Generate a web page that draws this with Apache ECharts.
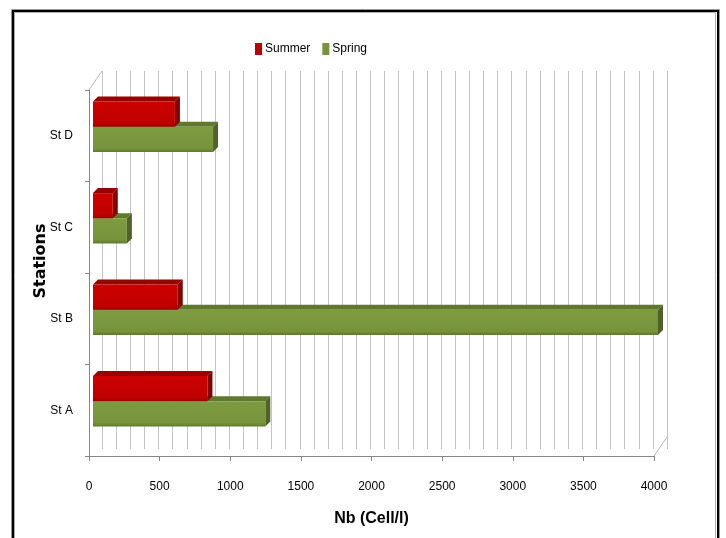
<!DOCTYPE html>
<html>
<head>
<meta charset="utf-8">
<script src="https://cdn.jsdelivr.net/npm/echarts@6/dist/echarts.min.js"></script>
<style>
html,body{margin:0;padding:0;background:#fff;}
#chart{width:726px;height:538px;}
</style>
</head>
<body>
<div id="chart"></div>
<script>
const stations = ['St A', 'St B', 'St C', 'St D'];
const summer = [810, 600, 140, 580];
const spring = [1220, 4000, 240, 850];
const xTicks = [0, 500, 1000, 1500, 2000, 2500, 3000, 3500, 4000];

const NARROW = '"Liberation Sans Narrow", "Arial Narrow", "Liberation Sans", sans-serif';

function bar3d(kind, front, top, side) {
  return function (params, api) {
    const v = api.value(0), c = api.value(1);
    const p0 = api.coord([0, c]);
    const p1 = api.coord([v, c]);
    const band = api.size([0, 1])[1];
    const h = band * 0.275;
    const cy = p0[1] - band * 0.098;
    const y0 = kind === 'summer' ? cy - h : cy;
    const y1 = kind === 'summer' ? cy : cy + h;
    const x0 = p0[0] + 4, x1 = p1[0] + 4;
    const d = 5;
    return {
      type: 'group',
      children: [
        { type: 'polygon', shape: { points: [[x0, y0], [x0 + d, y0 - d], [x1 + d, y0 - d], [x1, y0]] },
          style: { fill: top } },
        { type: 'polygon', shape: { points: [[x1, y0], [x1 + d, y0 - d], [x1 + d, y1 - d], [x1, y1]] },
          style: { fill: side } },
        { type: 'rect', shape: { x: x0, y: y0, width: x1 - x0, height: y1 - y0 },
          style: { fill: new echarts.graphic.LinearGradient(0, 0, 0, 1, [
            { offset: 0, color: front[0] }, { offset: 0.85, color: front[1] }, { offset: 1, color: front[2] }]) } }
      ]
    };
  };
}

const chart = echarts.init(document.getElementById('chart'));
chart.setOption({
  animation: false,
  backgroundColor: '#fff',
  legend: {
    data: ['Summer', 'Spring'],
    left: 250, top: 38,
    icon: 'rect', itemWidth: 7, itemHeight: 12, itemGap: 12, itemStyle: {},
    textStyle: { fontFamily: NARROW, fontSize: 12, color: '#000', padding: [0, 0, 0, -2] }
  },
  grid: [
    { left: 89, top: 90, width: 565, height: 366 },
    { left: 102, top: 71, width: 565, height: 378 }
  ],
  xAxis: [
    { type: 'value', gridIndex: 0, min: 0, max: 4000, interval: 500,
      axisLine: { show: true, lineStyle: { color: '#868686' } },
      axisTick: { show: true, length: 5, lineStyle: { color: '#868686' } },
      splitLine: { show: false },
      axisLabel: { color: '#000', fontFamily: NARROW, fontSize: 12, margin: 25,
        formatter: function (v) { return xTicks.indexOf(v) >= 0 ? String(v) : ''; } },
      name: 'Nb (Cell/l)', nameLocation: 'middle', nameGap: 55,
      nameTextStyle: { fontFamily: NARROW, fontSize: 16, fontWeight: 'bold', color: '#000' } },
    { type: 'value', gridIndex: 1, min: 0, max: 4000, interval: 100,
      axisLine: { show: false }, axisTick: { show: false }, axisLabel: { show: false },
      splitLine: { show: true, lineStyle: { color: '#c4c4c4', width: 1 } } }
  ],
  yAxis: [
    { type: 'category', gridIndex: 0, data: stations,
      axisLine: { show: true, lineStyle: { color: '#868686' } },
      axisTick: { show: true, length: 4, lineStyle: { color: '#868686' } },
      axisLabel: { color: '#000', fontFamily: NARROW, fontSize: 12, margin: 16, padding: [4, 0, 0, 0] } },
    { type: 'category', gridIndex: 1, data: stations,
      axisLine: { show: false }, axisTick: { show: false }, axisLabel: { show: false },
      splitLine: { show: false } }
  ],
  graphic: [
    { type: 'rect', shape: { x: 11.5, y: 9.5, width: 708, height: 600 }, style: { fill: 'none', stroke: '#9a9a9a', lineWidth: 1 } },
    { type: 'rect', shape: { x: 13, y: 11, width: 705, height: 600 }, style: { fill: 'none', stroke: '#000', lineWidth: 2 } },
    { type: 'rect', shape: { x: 14.5, y: 12.5, width: 701, height: 600 }, style: { fill: 'none', stroke: '#b0b0b0', lineWidth: 1 } },
    { type: 'line', shape: { x1: 89, y1: 90, x2: 102, y2: 71 }, style: { stroke: '#b8b8b8', lineWidth: 1 } },
    { type: 'line', shape: { x1: 654, y1: 456, x2: 667, y2: 437 }, style: { stroke: '#b8b8b8', lineWidth: 1 } },
    { type: 'text', x: 41, y: 261, rotation: Math.PI / 2,
      style: { text: 'Stations', fill: '#000', font: 'bold 16px "DejaVu Sans", sans-serif',
        textAlign: 'center', textVerticalAlign: 'middle' } }
  ],
  series: [
    { name: 'Spring', type: 'custom', xAxisIndex: 0, yAxisIndex: 0,
      itemStyle: { color: '#77933c' },
      encode: { x: 0, y: 1 },
      data: spring.map(function (v, i) { return [v, i]; }),
      renderItem: bar3d('spring', ['#7e9b41', '#77933c', '#5f7a2c'], '#5e792a', '#4f6228') },
    { name: 'Summer', type: 'custom', xAxisIndex: 0, yAxisIndex: 0,
      itemStyle: { color: '#c00000' },
      encode: { x: 0, y: 1 },
      data: summer.map(function (v, i) { return [v, i]; }),
      renderItem: bar3d('summer', ['#cc0000', '#c00000', '#9c0000'], '#990000', '#850000') }
  ]
});
</script>
</body>
</html>
